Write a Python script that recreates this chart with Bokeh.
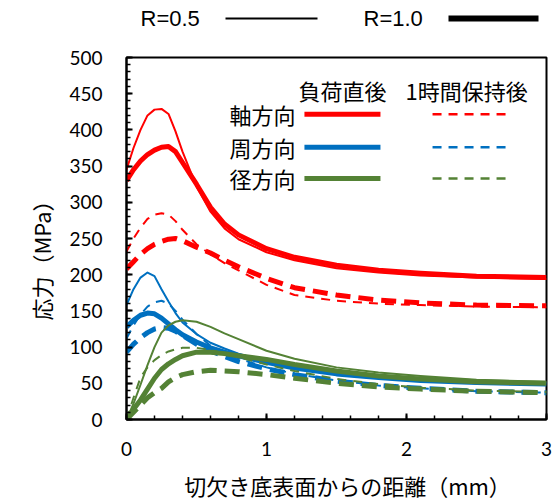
from bokeh.plotting import figure
from bokeh.layouts import column
from bokeh.models import Range1d, SingleIntervalTicker, Label
from bokeh.embed import file_html
from bokeh.resources import INLINE

# distance from notch root surface (mm)
dist = [0, 0.05, 0.1, 0.15, 0.2, 0.25, 0.3, 0.35, 0.4, 0.5, 0.6, 0.7, 0.8, 1.0, 1.2, 1.5, 1.8, 2.1, 2.5, 3.0]

# axial (軸方向)
axial_r05 = [345, 375, 400, 420, 428, 429, 422, 398, 370, 322, 287, 264, 249, 231, 220, 209, 203, 199, 196, 194]
axial_r10 = [330, 345, 357, 366, 372, 376, 377, 370, 355, 325, 293, 270, 255, 236, 224, 213, 206, 202, 198, 196]
axial_r05_1h = [232, 250, 265, 277, 283, 285, 283, 274, 262, 242, 228, 216, 206, 186, 172, 164, 160, 158, 156, 155]
axial_r10_1h = [208, 218, 228, 236, 242, 246, 249, 250, 247, 238, 230, 220, 211, 195, 182, 172, 165, 161, 158, 157]

# circumferential (周方向)
circ_r05 = [158, 180, 196, 203, 198, 180, 163, 147, 134, 118, 106, 98, 91, 80, 72, 64, 58, 55, 52, 50]
circ_r10 = [128, 137, 144, 147, 146, 140, 132, 124, 117, 107, 99, 93, 88, 79, 71, 63, 58, 54, 51, 49]
circ_r05_1h = [112, 130, 145, 156, 162, 164, 160, 150, 138, 118, 102, 92, 84, 72, 63, 54, 47, 43, 39, 37]
circ_r10_1h = [93, 104, 113, 120, 125, 127, 126, 122, 116, 104, 95, 87, 80, 70, 62, 53, 47, 43, 39, 37]

# radial (径方向)
rad_r05 = [0, 22, 48, 75, 100, 120, 130, 135, 137, 135, 128, 119, 111, 95, 84, 72, 65, 60, 55, 52]
rad_r10 = [0, 14, 27, 42, 57, 69, 77, 83, 88, 93, 93, 91, 88, 83, 76, 67, 60, 56, 52, 50]
rad_r05_1h = [0, 30, 58, 72, 82, 89, 94, 97, 99, 99, 96, 91, 86, 76, 67, 56, 49, 44, 40, 38]
rad_r10_1h = [0, 10, 20, 30, 37, 43, 52, 58, 62, 66, 68, 67, 66, 62, 57, 50, 45, 42, 39, 37]

series_names = ["軸方向", "周方向", "径方向"]
header_names = ["負荷直後", "1時間保持後"]
r_names = ["R=0.5", "R=1.0"]
x_title = "\u3000切欠き底表面からの距離（mm）"
y_title = "応力（MPa）\u3000\u3000"

RED = "#FF0000"
BLUE = "#0070C0"
GREEN = "#548235"
TICKFONT = "Lato"
JPFONT = "Noto Sans CJK JP"
LATFONT = "Liberation Sans"

# ---- top legend strip (its frame is aligned with the main frame: x in px 126..546) ----
top = figure(width=558, height=40, x_range=Range1d(126, 546), y_range=Range1d(40, 0),
             output_backend="svg", toolbar_location=None,
             min_border_left=126, min_border_right=12, min_border_top=0, min_border_bottom=0)
top.axis.visible = False
top.grid.visible = False
top.outline_line_color = None
top.add_layout(Label(x=140, y=18, text=r_names[0], text_font=LATFONT,
                     text_font_size="22px", text_baseline="middle", text_color="#000000"))
top.segment(x0=[225], y0=[18], x1=[317], y1=[18], line_color="black", line_width=2)
top.add_layout(Label(x=363, y=18, text=r_names[1], text_font=LATFONT,
                     text_font_size="22px", text_baseline="middle", text_color="#000000"))
top.segment(x0=[448], y0=[18], x1=[538], y1=[18], line_color="black", line_width=6)

# ---- main plot ----
p = figure(width=558, height=463, x_range=Range1d(0, 3), y_range=Range1d(0, 500),
           output_backend="svg", toolbar_location=None,
           min_border_left=126, min_border_right=12, min_border_top=17, min_border_bottom=83)
p.grid.visible = False
p.outline_line_color = "black"
p.outline_line_width = 2

p.xaxis.ticker = SingleIntervalTicker(interval=1, num_minor_ticks=5)
p.yaxis.ticker = SingleIntervalTicker(interval=50, num_minor_ticks=5)
for ax in (p.xaxis, p.yaxis):
    ax.axis_line_color = "black"
    ax.axis_line_width = 2
    ax.major_tick_in = 6
    ax.major_tick_out = 0
    ax.minor_tick_in = 4
    ax.minor_tick_out = 0
    ax.major_tick_line_width = 2
    ax.minor_tick_line_width = 1.5
    ax.major_tick_line_color = "black"
    ax.minor_tick_line_color = "black"
    ax.major_label_text_font = TICKFONT
    ax.major_label_text_font_size = "19px"
    ax.major_label_text_color = "#000000"
    ax.axis_label_text_font = JPFONT
    ax.axis_label_text_font_size = "22px"
    ax.axis_label_text_font_style = "normal"
    ax.axis_label_text_color = "#000000"
p.yaxis.major_label_standoff = 24
p.xaxis.major_label_standoff = 22
p.xaxis.axis_label = x_title
p.yaxis.axis_label = y_title
p.xaxis.axis_label_standoff = 10
p.yaxis.axis_label_standoff = 9

THIN, THICK = 2, 5
DASH_THIN, DASH_THICK = "9 7", "15 8"

curves = [
    (circ_r05, BLUE, THIN, "solid"), (circ_r05_1h, BLUE, THIN, DASH_THIN),
    (circ_r10, BLUE, THICK, "solid"), (circ_r10_1h, BLUE, THICK, DASH_THICK),
    (rad_r05, GREEN, THIN, "solid"), (rad_r05_1h, GREEN, THIN, DASH_THIN),
    (rad_r10, GREEN, THICK, "solid"), (rad_r10_1h, GREEN, THICK, DASH_THICK),
    (axial_r05_1h, RED, THIN, DASH_THIN), (axial_r10_1h, RED, THICK, DASH_THICK),
    (axial_r05, RED, THIN, "solid"), (axial_r10, RED, THICK, "solid"),
]
for ys, col, w, dash in curves:
    p.line(dist, ys, line_color=col, line_width=w, line_dash=dash, line_join="round")

# inner legend
lab_kw = dict(text_font=JPFONT, text_font_size="22px", text_baseline="middle", text_color="#000000")
p.add_layout(Label(x=1.229, y=454.5, text=header_names[0], **lab_kw))
p.add_layout(Label(x=1.993, y=454.5, text=header_names[1], **lab_kw))
rows_y = [421.5, 376, 333]
for name, yy, col in zip(series_names, rows_y, [RED, BLUE, GREEN]):
    p.add_layout(Label(x=1.207, y=yy, text=name, text_align="right", **lab_kw))
    p.segment(x0=[1.271], y0=[yy], x1=[1.814], y1=[yy], line_color=col, line_width=5)
    p.segment(x0=[2.186], y0=[yy], x1=[2.729], y1=[yy], line_color=col, line_width=2.5,
              line_dash="9 7")

layout = column(top, p, spacing=0)
open("out.html", "w").write(file_html(layout, INLINE))
